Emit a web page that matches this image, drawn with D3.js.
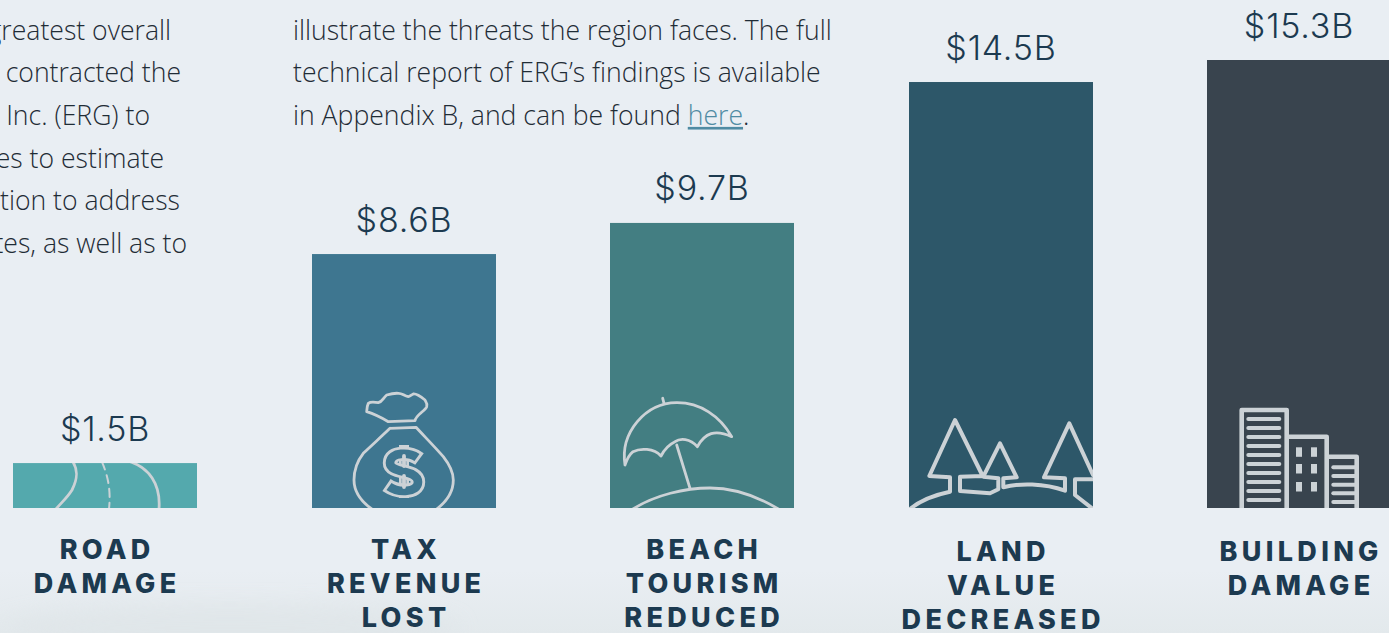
<!DOCTYPE html>
<html><head><meta charset="utf-8">
<script src="https://cdn.jsdelivr.net/npm/d3@7/dist/d3.min.js"></script>
<style>html,body{margin:0;padding:0;background:#e9eef3;overflow:hidden}svg{display:block}</style>
</head><body><div id="chart"></div>
<script>
const categories = ["road","tax","beach","land","building"];
const values = [1.53, 8.65, 9.71, 14.51, 15.26];
const valueLabels = ["$1.5B","$8.6B","$9.7B","$14.5B","$15.3B"];
const barColors = ["#54a9ad","#3e7690","#437e82","#2d5769","#39444e"];
const categoryLines = [["ROAD","DAMAGE"],["TAX","REVENUE","LOST"],["BEACH","TOURISM","REDUCED"],["LAND","VALUE","DECREASED"],["BUILDING","DAMAGE"]];
const labelShift = [0,0,0,2,2];
const leftText = ["greatest overall","contracted the","Inc. (ERG) to","es to estimate","tion to address","tes, as well as to"];
const leftEnds = [171,181,150,164,180,187];
const rightText = ["illustrate the threats the region faces. The full","technical report of ERG’s findings is available"];

const W=1389,H=633,baseY=508,ink="#1c3a50",iconC="#ccd2d6",spacing=4.3;
const svg=d3.select("#chart").append("svg").attr("width",W).attr("height",H);
const defs=svg.append("defs");
const g=defs.append("linearGradient").attr("id","mist").attr("x1",0).attr("x2",0).attr("y1",0).attr("y2",1);
g.append("stop").attr("offset",0).attr("stop-color","#e9eef3");
g.append("stop").attr("offset",1).attr("stop-color","#e3e9ec");
const blur=defs.append("filter").attr("id","soft").attr("x","-20%").attr("y","-100%").attr("width","140%").attr("height","300%");
blur.append("feGaussianBlur").attr("stdDeviation",10);
svg.append("rect").attr("width",W).attr("height",H).attr("fill","#e9eef3");
svg.append("rect").attr("y",570).attr("width",W).attr("height",63).attr("fill","url(#mist)");
svg.append("ellipse").attr("cx",230).attr("cy",628).attr("rx",230).attr("ry",24).attr("fill","#dfe5e8").attr("opacity",.7).attr("filter","url(#soft)");

const band=d3.scaleBand().domain(categories).range([13,1391]).paddingInner(1-184/298.5).paddingOuter(0);
const x=d=>Math.ceil(band(d));
const y=d3.scaleLinear().domain([0,15.26]).range([baseY,60]);

// body copy
const body=svg.append("g").attr("font-family","'Open Sans'").attr("font-weight",300).attr("font-size",26.6).attr("fill","#1f2c36");
leftText.forEach((t,i)=>body.append("text").attr("x",leftEnds[i]).attr("y",39.5+i*42.7).attr("text-anchor","end").text(t));
rightText.forEach((t,i)=>body.append("text").attr("x",293).attr("y",39.5+i*42.7).text(t));
const last=body.append("text").attr("x",293).attr("y",39.5+2*42.7);
last.append("tspan").text("in Appendix B, and can be found ");
last.append("tspan").attr("fill","#4f8ba3").style("text-decoration","underline").style("text-decoration-thickness","1px").text("here");
last.append("tspan").text(".");

// bars
svg.selectAll("rect.bar").data(categories).join("rect").attr("class","bar")
 .attr("x",d=>x(d)).attr("width",band.bandwidth())
 .attr("y",(d,i)=>y(values[i])).attr("height",(d,i)=>baseY-y(values[i]))
 .attr("fill",(d,i)=>barColors[i]);

// value labels
svg.selectAll("text.val").data(categories).join("text").attr("class","val")
 .attr("x",d=>x(d)+band.bandwidth()/2).attr("y",(d,i)=>y(values[i])-22.5)
 .attr("text-anchor","middle").attr("font-family","Inter").attr("font-weight",300).attr("font-size",34)
 .attr("letter-spacing",.8).attr("fill",ink).text((d,i)=>valueLabels[i]);

// category labels
categories.forEach((c,i)=>{
 categoryLines[i].forEach((t,j)=>{
  svg.append("text").attr("x",x(c)+band.bandwidth()/2+spacing/2).attr("y",559+labelShift[i]+j*34)
   .attr("text-anchor","middle").attr("font-family","Inter").attr("font-weight",800).attr("font-size",27)
   .attr("letter-spacing",spacing).attr("fill",ink).text(t);
 });
});

// pictograms, in each bar's own frame (origin: bottom-left of the bar)
const iconFrame=(c,i)=>{
 const id="clip-"+c;
 defs.append("clipPath").attr("id",id).append("rect").attr("width",band.bandwidth()).attr("height",baseY-y(values[i])).attr("y",-(baseY-y(values[i])));
 return svg.append("g").attr("transform",`translate(${x(c)},${baseY})`).attr("clip-path",`url(#${id})`)
  .attr("fill","none").attr("stroke",iconC).attr("stroke-linecap","round").attr("stroke-linejoin","round");
};
const p=(f,d,w,extra)=>{const e=f.append("path").attr("d",d).attr("stroke-width",w);if(extra)extra(e);return e;};

// road
let f=iconFrame("road",0);
p(f,"M60,-46 C65,-38 65,-30 59,-18 C54,-10 48,-5 43,1",2.8);
p(f,"M89,-46 C95,-32 98,-18 96,1",2,e=>e.attr("stroke-dasharray","8 6"));
p(f,"M118,-46 C135,-40 148,-25 146,1",2.8);

// money bag
f=iconFrame("tax",1);
p(f,"M76.3,-86.3 L103,-87.3 C104,-93 113,-97 114.7,-101.3 C116,-105 113,-107 113,-108 C108,-112 104,-114.5 101.3,-114 C99,-113 98,-111.5 96.3,-111.3 C92,-112 90,-115 86.3,-114.7 C82,-115 78,-114 74.7,-113 C71,-110 70,-106 66.3,-105.3 C62,-106 58,-106 56.3,-104.7 C55,-102 55,-99 54.7,-96.3 C62,-94 70,-90 76.3,-86.3 Z",2.8);
p(f,"M78,-79.7 L104,-80.7 C112,-72 122,-62 131.3,-51.3 C137,-44 141.3,-36 141.3,-28 C141.3,-15 134,-6 124.7,1 M78,-79.7 C70,-72 60,-63 51.3,-54.7 C46,-48 42,-38 42,-28 C42,-15 50,-6 59.7,1",2.8);
p(f,"M92,-63 V-10",10,e=>e.attr("stroke-linecap","butt"));
p(f,"M92,-60 V-13",4.6,e=>e.attr("stroke",barColors[1]).attr("stroke-linecap","butt"));
p(f,"M107.5,-49 C98,-56 78,-57 78,-45 C78,-34 106,-39 106,-26 C106,-15 86,-15 74.5,-23",14.4,e=>e.attr("stroke-linecap","butt"));
p(f,"M105,-50.5 C98,-55.5 78,-57 78,-45 C78,-34 106,-39 106,-26 C106,-15 86,-15 77,-21.5",8.6,e=>e.attr("stroke",barColors[1]).attr("stroke-linecap","butt"));
p(f,"M92,-52 V-42 M92,-32 V-21",3.8);

// umbrella
f=iconFrame("beach",2);
p(f,"M15,-43 C10,-75 35,-105 66.7,-105.3 C90,-105.5 110,-92 121.7,-71.3 C105,-79 95,-75 87.3,-61.3 C80,-70 70,-70 65,-66.3 C58,-63 54,-58 51,-52 C44,-60 30,-60 23,-56.3 C19,-53 17,-49 15,-43 Z",2.8);
p(f,"M52.7,-109.7 L54,-104.7 M66.7,-63 L80,-19.7",2.8);
p(f,"M23,1 C45,-13 75,-20 100,-20 C125,-20 150,-10 168.3,1",2.8);

// trees
f=iconFrame("land",3);
p(f,"M1,1 C12,-8 25,-13 41,-16.3 L41,-30.7 L20.3,-32 L46,-88 L73.7,-32 L51,-31.3 L51,-17 L81,-14.7 L89.3,-18.7 L89.3,-29.7 L74.3,-31.3 L91,-64.7 L107.7,-30.7 L94.3,-29.7 L94.3,-20.7 C110,-25 135,-25 156,-17.3 L156,-29.7 L135,-30.7 L160.3,-84.7 L184,-33 M186,-28.7 L166,-28.7 L166,-13 L184,1",4);

// buildings
f=iconFrame("building",4);
p(f,"M34.7,2 V-98 H79.7 V2 M79.7,-71.3 H119.7 V2 M119.7,-51.3 H149.7 V2",4.6);
d3.range(10).forEach(k=>p(f,`M41.3,${-89+k*9} H72.3`,4));
[-40.7,-32,-23.3,-14.7,-6].forEach(v=>p(f,`M126.3,${v} H148`,4));
[-60.7,-44,-26].forEach(v=>[89,104].forEach(u=>f.append("rect").attr("x",u).attr("y",v).attr("width",6).attr("height",9.5).attr("fill",iconC).attr("stroke","none")));
</script></body></html>
